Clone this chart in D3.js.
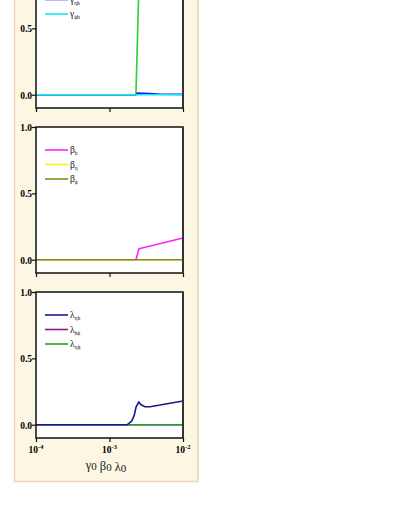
<!DOCTYPE html>
<html>
<head>
<meta charset="utf-8">
<script src="https://cdn.jsdelivr.net/npm/d3@7"></script>
<style>
  body { margin: 0; background: #fff; }
  svg { display: block; }
  .tick-lbl { font-family: "Liberation Serif", "DejaVu Serif", serif; font-weight: bold; font-size: 9.5px; fill: #000; }
  .leg-lbl { font-family: "Liberation Serif", "DejaVu Serif", serif; font-size: 9.5px; fill: #111; }
</style>
</head>
<body>
<div id="chart"></div>
<script>
const svgWidth = 395;
const svgHeight = 511;

// x values shared by all series (gamma0 beta0 lambda0)
const xTicks = [1e-4, 1e-3, 1e-2];
const yTicks = [0, 0.5, 1.0];

// panel 1 : gamma
const gammaX   = [1e-4, 2.29e-3, 2.56e-3, 1e-2];
const gammaH   = [0, 0, 1.0, 1.0];
const gammaEtaX = [1e-4, 2.29e-3, 2.4e-3, 3.5e-3, 5e-3, 1e-2];
const gammaEtaH = [0, 0, 0.012, 0.008, 0.004, 0.003];
const gammaPhiH = [0, 0, 0, 0];

// panel 2 : beta
const betaX    = [1e-4, 2.29e-3, 2.52e-3, 1e-2];
const betaH    = [0, 0, 0.083, 0.163];
const betaEta  = [0, 0, 0, 0];
const betaPhi  = [0, 0, 0, 0];

// panel 3 : lambda
const lambdaX     = [1e-4, 1.75e-3, 2.0e-3, 2.17e-3, 2.29e-3, 2.5e-3, 2.66e-3, 3.04e-3, 3.56e-3, 4.86e-3, 6.65e-3, 1e-2];
const lambdaEtaH  = [0, 0, 0.027, 0.07, 0.13, 0.172, 0.152, 0.136, 0.136, 0.148, 0.162, 0.179];
const lambdaHPhi  = [0, 0, 0, 0, 0, 0, 0, 0, 0, 0, 0, 0];
const lambdaEtaPhi = [0, 0, 0, 0, 0, 0, 0, 0, 0, 0, 0, 0];

const panels = [
  { top: -38, series: [
      { x: gammaX, y: gammaH, color: '#2fd02f', sym: 'γ', sub: 'h' },
      { x: gammaEtaX, y: gammaEtaH, color: '#1020ff', sym: 'γ', sub: 'ηh' },
      { x: gammaX, y: gammaPhiH, color: '#12e8f0', sym: 'γ', sub: 'ϕh' }
    ], drawOrder: [0, 1, 2] },
  { top: 127, series: [
      { x: betaX, y: betaH, color: '#ff22ff', sym: 'β', sub: 'h' },
      { x: betaX, y: betaEta, color: '#f6f61a', sym: 'β', sub: 'η' },
      { x: betaX, y: betaPhi, color: '#8c8a22', sym: 'β', sub: 'ϕ' }
    ], drawOrder: [0, 1, 2] },
  { top: 292, series: [
      { x: lambdaX, y: lambdaEtaH, color: '#1a1a8e', sym: 'λ', sub: 'ηh' },
      { x: lambdaX, y: lambdaHPhi, color: '#8a1a8e', sym: 'λ', sub: 'hϕ' },
      { x: lambdaX, y: lambdaEtaPhi, color: '#22a022', sym: 'λ', sub: 'ηϕ' }
    ], drawOrder: [1, 2, 0] }
];

const plotLeft = 36, plotRight = 183, plotH = 146;

const svg = d3.select('#chart').append('svg')
  .attr('width', svgWidth).attr('height', svgHeight);

// beige background panel
svg.append('rect')
  .attr('x', 14.5).attr('y', -20).attr('width', 183.5).attr('height', 501.5)
  .attr('fill', '#fbf7e3').attr('stroke', '#ead6b2').attr('stroke-width', 1.5);

const xScale = d3.scaleLog().domain([1e-4, 1e-2]).range([plotLeft, plotRight]);

panels.forEach((p, pi) => {
  const yScale = d3.scaleLinear().domain([-0.1, 1.0]).range([p.top + plotH, p.top]);
  const g = svg.append('g');

  // plot frame
  g.append('rect')
    .attr('x', plotLeft).attr('y', p.top)
    .attr('width', plotRight - plotLeft).attr('height', plotH)
    .attr('fill', '#fff');

  // y axis
  const yAxis = d3.axisLeft(yScale).tickValues(yTicks).tickSize(4).tickFormat(d3.format('.1f'));
  const ya = g.append('g').attr('transform', `translate(${plotLeft},0)`).call(yAxis);
  ya.select('.domain').remove();
  ya.selectAll('.tick line').attr('stroke', '#111').attr('stroke-width', 1.2);
  ya.selectAll('.tick text').attr('class', 'tick-lbl').attr('fill', '#000').attr('x', -4).attr('dy', '0.35em');

  // x axis
  const xAxis = d3.axisBottom(xScale).tickValues(xTicks).tickSize(4).tickFormat('');
  const xa = g.append('g').attr('transform', `translate(0,${p.top + plotH})`).call(xAxis);
  xa.select('.domain').remove();
  xa.selectAll('.tick line').attr('stroke', '#111').attr('stroke-width', 1.2);

  if (pi === panels.length - 1) {
    const exps = ['-4', '-3', '-2'];
    xTicks.forEach((t, i) => {
      const tx = g.append('text').attr('class', 'tick-lbl')
        .attr('x', xScale(t)).attr('y', p.top + plotH + 15).attr('text-anchor', 'middle');
      tx.append('tspan').text('10');
      tx.append('tspan').attr('font-size', '6.5px').attr('dy', '-4').text(exps[i]);
    });
    const title = g.append('text')
      .attr('x', 106).attr('y', 469)
      .attr('text-anchor', 'middle')
      .attr('font-family', '"Liberation Serif", "DejaVu Serif", serif')
      .attr('font-size', '12.5px').attr('fill', '#222');
    ['γ', 'β', 'λ'].forEach((s, i) => {
      title.append('tspan').attr('dx', i ? 3 : 0).text(s);
      title.append('tspan').attr('font-size', '11px').attr('dy', 1).text('0');
      title.append('tspan').attr('dy', -1).text('');
    });
  }

  // lines
  const line = d3.line().x(d => xScale(d[0])).y(d => yScale(d[1]));
  p.drawOrder.forEach(si => {
    const s = p.series[si];
    g.append('path')
      .datum(s.x.map((v, i) => [v, s.y[i]]))
      .attr('d', line)
      .attr('fill', 'none').attr('stroke', s.color).attr('stroke-width', 1.6)
      .attr('stroke-linejoin', 'round');
  });

  // frame border on top
  g.append('path')
    .attr('d', `M${plotLeft},${p.top}H${plotRight}V${p.top + plotH}H${plotLeft}Z`)
    .attr('fill', 'none').attr('stroke', '#111').attr('stroke-width', 1.5);
  g.append('line')
    .attr('x1', plotRight).attr('x2', plotRight).attr('y1', p.top).attr('y2', p.top + plotH)
    .attr('stroke', '#333').attr('stroke-width', 2);

  // legend
  p.series.forEach((s, i) => {
    const ly = p.top + 23 + i * 14.5;
    g.append('line').attr('x1', 45).attr('x2', 68).attr('y1', ly).attr('y2', ly)
      .attr('stroke', s.color).attr('stroke-width', 1.6);
    const t = g.append('text').attr('class', 'leg-lbl').attr('x', 70).attr('y', ly + 3);
    t.append('tspan').text(s.sym);
    t.append('tspan').attr('font-size', '5.5px').attr('dy', 2).text(s.sub);
  });
});
</script>
</body>
</html>
